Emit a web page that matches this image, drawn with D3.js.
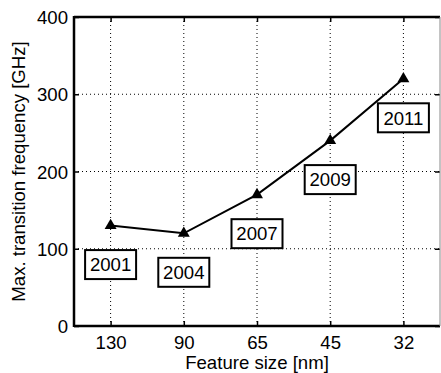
<!DOCTYPE html>
<html>
<head>
<meta charset="utf-8">
<script src="https://cdn.jsdelivr.net/npm/d3@7"></script>
<style>
  html, body { margin: 0; padding: 0; background: #fff; }
  svg { display: block; font-family: "Liberation Sans", Arial, Helvetica, sans-serif; }
</style>
</head>
<body>
<svg id="chart" width="441" height="373"></svg>
<script>
// Feature size per technology node and the year it appeared
const categories = ["130", "90", "65", "45", "32"];
const years = ["2001", "2004", "2007", "2009", "2011"];
// Maximum transition frequency (GHz)
const freq = [130, 120, 170, 240, 320];
const yTicks = [0, 100, 200, 300, 400];
const yGrid = [100, 200, 300];

const plotL = 74, plotR = 440, plotT = 17, plotB = 326;
const fontSize = "18.6px";

const svg = d3.select("#chart");

const x = d3.scalePoint().domain(categories).range([plotL, plotR]).padding(0.5);
const y = d3.scaleLinear().domain([0, 400]).range([plotB, plotT]);

// dotted grid
const grid = svg.append("g").attr("stroke", "#000").attr("stroke-width", 1)
  .attr("stroke-dasharray", "1,3");
grid.selectAll("line.gx").data(categories).join("line")
  .attr("class", "gx")
  .attr("x1", d => x(d)).attr("x2", d => x(d))
  .attr("y1", plotT).attr("y2", plotB);
grid.selectAll("line.gy").data(yGrid).join("line")
  .attr("class", "gy")
  .attr("x1", plotL).attr("x2", plotR)
  .attr("y1", d => y(d)).attr("y2", d => y(d));

// axes with inward ticks
const axL = svg.append("g").attr("transform", `translate(${plotL},0)`)
  .call(d3.axisLeft(y).tickValues(yTicks).tickSize(-5).tickSizeOuter(0).tickPadding(6));
const axB = svg.append("g").attr("transform", `translate(0,${plotB})`)
  .call(d3.axisBottom(x).tickSize(-5).tickSizeOuter(0).tickPadding(10));
const axT = svg.append("g").attr("transform", `translate(0,${plotT})`)
  .call(d3.axisTop(x).tickSize(-5).tickSizeOuter(0).tickFormat(""));
const axR = svg.append("g").attr("transform", `translate(${plotR},0)`)
  .call(d3.axisRight(y).tickValues(yTicks).tickSize(-5).tickSizeOuter(0).tickFormat(""));

[axL, axB, axT, axR].forEach(a => {
  a.select(".domain").remove();
  a.selectAll(".tick line").attr("stroke", "#000").attr("stroke-width", 1.5);
  a.selectAll(".tick text").attr("font-size", fontSize).attr("fill", "#000")
    .attr("font-family", "Liberation Sans, Arial, sans-serif");
});
axL.selectAll(".tick text").attr("dy", "0.35em");

// frame
svg.append("line").attr("x1", plotL).attr("x2", plotL).attr("y1", plotT - 1).attr("y2", plotB + 1)
  .attr("stroke", "#000").attr("stroke-width", 2.5);
svg.append("line").attr("x1", plotL).attr("x2", plotR).attr("y1", plotB).attr("y2", plotB)
  .attr("stroke", "#000").attr("stroke-width", 2.5);
svg.append("line").attr("x1", plotL).attr("x2", plotR).attr("y1", plotT).attr("y2", plotT)
  .attr("stroke", "#000").attr("stroke-width", 2.5);
svg.append("line").attr("x1", plotR).attr("x2", plotR).attr("y1", plotT).attr("y2", plotB)
  .attr("stroke", "#888").attr("stroke-width", 1);

// data line
const pts = categories.map((c, i) => [x(c), y(freq[i])]);
svg.append("path").attr("d", d3.line()(pts))
  .attr("fill", "none").attr("stroke", "#000").attr("stroke-width", 2);

// triangle markers
svg.selectAll("path.marker").data(pts).join("path")
  .attr("class", "marker")
  .attr("transform", d => `translate(${d[0]},${d[1]})`)
  .attr("d", d3.symbol(d3.symbolTriangle).size(62))
  .attr("fill", "#000");

// year labels in boxes, placed below each point
const labelDrop = 39, boxW = 51, boxH = 29;
const lab = svg.selectAll("g.lab").data(years).join("g")
  .attr("class", "lab")
  .attr("transform", (d, i) => `translate(${x(categories[i])},${y(freq[i]) + labelDrop})`);
lab.append("rect")
  .attr("x", -boxW / 2).attr("y", -boxH / 2).attr("width", boxW).attr("height", boxH)
  .attr("fill", "#fff").attr("stroke", "#000").attr("stroke-width", 2);
lab.append("text")
  .attr("text-anchor", "middle").attr("dy", "0.36em")
  .attr("font-size", fontSize)
  .text(d => d);

// axis titles
svg.append("text")
  .attr("x", (plotL + plotR) / 2).attr("y", 369)
  .attr("text-anchor", "middle").attr("font-size", fontSize)
  .text("Feature size [nm]");
svg.append("text")
  .attr("transform", `translate(25,${(plotT + plotB) / 2}) rotate(-90)`)
  .attr("text-anchor", "middle").attr("font-size", fontSize)
  .text("Max. transition frequency [GHz]");
</script>
</body>
</html>
